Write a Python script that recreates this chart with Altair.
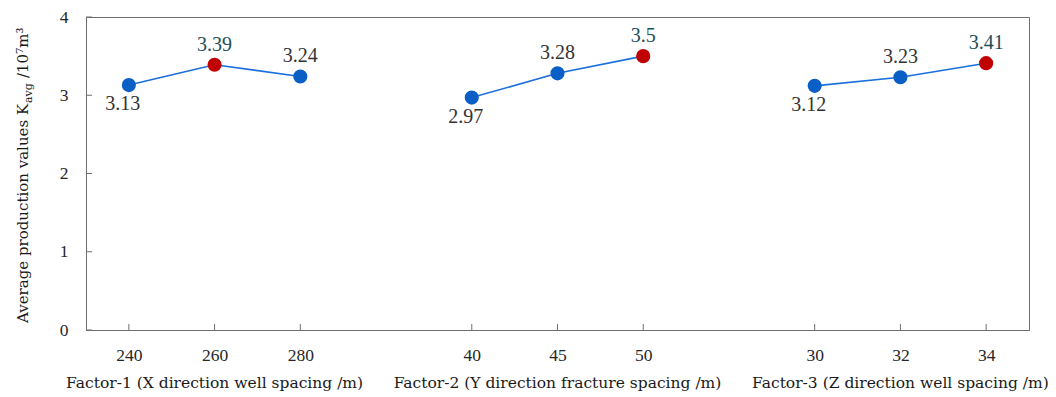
import altair as alt
import pandas as pd

factor_names = [
    "Factor-1 (X direction well spacing /m)",
    "Factor-2 (Y direction fracture spacing /m)",
    "Factor-3 (Z direction well spacing /m)",
]
levels_f1 = ["240", "260", "280"]
levels_f2 = ["40", "45", "50"]
levels_f3 = ["30", "32", "34"]
values_f1 = [3.13, 3.39, 3.24]
values_f2 = [2.97, 3.28, 3.50]
values_f3 = [3.12, 3.23, 3.41]
y_ticks = [0, 1, 2, 3, 4]
title_main = "Average production values K"
title_sub = "avg"
title_unit = "/10\u2077m\u00b3"

all_levels = levels_f1 + levels_f2 + levels_f3
x_domain = levels_f1 + ["gap1"] + levels_f2 + ["gap2"] + levels_f3

rows = []
for name, levs, vals in zip(factor_names, [levels_f1, levels_f2, levels_f3],
                            [values_f1, values_f2, values_f3]):
    for l, v in zip(levs, vals):
        rows.append({"factor": name, "level": l, "value": v})
df = pd.DataFrame(rows)

W, H = 943, 313
GRAY = "#6f6f6f"
NUMFONT = "Liberation Serif"
TXTFONT = "DejaVu Serif"

X = alt.X("level:O", scale=alt.Scale(type="point", domain=x_domain, padding=0.5),
          axis=alt.Axis(values=all_levels, ticks=False, labelAngle=0, labelPadding=16,
                        labelFont=NUMFONT, labelFontSize=17.5, labelColor="#262626",
                        domainColor=GRAY, title=None, grid=False))
Y = alt.Y("value:Q", scale=alt.Scale(domain=[0, 4], nice=False),
          axis=alt.Axis(values=y_ticks, ticks=False, labelPadding=18, labelFont=NUMFONT,
                        labelFontSize=17.5, labelColor="#262626", domainColor=GRAY,
                        title=None, grid=False))

base = alt.Chart(df).transform_joinaggregate(
    gmax="max(value)", gmin="min(value)", groupby=["factor"]
).transform_calculate(
    is_max="datum.value == datum.gmax", is_min="datum.value == datum.gmin"
)

line = base.mark_line(color="#1b6fdc", strokeWidth=1.6).encode(x=X, y=Y, detail="factor:N")
points = base.mark_circle(size=200, opacity=1).encode(
    x=X, y=Y,
    color=alt.condition("datum.is_max", alt.value("#c00000"), alt.value("#0a5fc6")),
)
lab_above = base.transform_filter("!datum.is_min").mark_text(
    dy=-20, font=NUMFONT, fontSize=20, baseline="middle"
).encode(
    x=X, y=Y, text=alt.Text("value:Q"),
    color=alt.condition("datum.is_max", alt.value("#1d4f59"), alt.value("#333333")),
)
lab_below = base.transform_filter("datum.is_min").mark_text(
    dy=19, dx=-6, font=NUMFONT, fontSize=20, baseline="middle"
).encode(
    x=X, y=Y, text=alt.Text("value:Q"),
    color=alt.condition("datum.is_max", alt.value("#1d4f59"), alt.value("#333333")),
)

ytick = alt.Chart(pd.DataFrame({"value": y_ticks})).mark_rule(color=GRAY).encode(
    y=Y, x=alt.value(0), x2=alt.value(6))
xtick = alt.Chart(pd.DataFrame({"level": all_levels})).mark_rule(color=GRAY).encode(
    x=X, y=alt.value(H), y2=alt.value(H - 6))

groups = alt.Chart(pd.DataFrame({
    "level": [levels_f1[1], levels_f2[1], levels_f3[1]],
    "factor": factor_names,
})).mark_text(font=TXTFONT, fontSize=15.5, baseline="middle", color="#1a1a1a").encode(
    x=X, y=alt.value(H + 53), text="factor:N")

t1 = alt.Chart(pd.DataFrame({"t": [title_main]})).mark_text(
    font=TXTFONT, fontSize=15, angle=270, align="left", baseline="alphabetic", color="#1a1a1a"
).encode(x=alt.value(-58), y=alt.value(306), text="t:N")
t2 = alt.Chart(pd.DataFrame({"t": [title_sub]})).mark_text(
    font=TXTFONT, fontSize=11, angle=270, align="left", baseline="alphabetic", color="#1a1a1a"
).encode(x=alt.value(-54), y=alt.value(86), text="t:N")
t3 = alt.Chart(pd.DataFrame({"t": [title_unit]})).mark_text(
    font=TXTFONT, fontSize=15, angle=270, align="left", baseline="alphabetic", color="#1a1a1a"
).encode(x=alt.value(-58), y=alt.value(61), text="t:N")

chart = alt.layer(
    ytick, xtick, line, points, lab_above, lab_below, groups, t1, t2, t3
).properties(
    width=W, height=H, autosize="none",
    padding={"left": 86, "top": 17, "right": 27, "bottom": 67},
).configure_view(stroke=GRAY, strokeWidth=1)

chart.save("out.html", embed_options={"renderer": "svg", "actions": False})
